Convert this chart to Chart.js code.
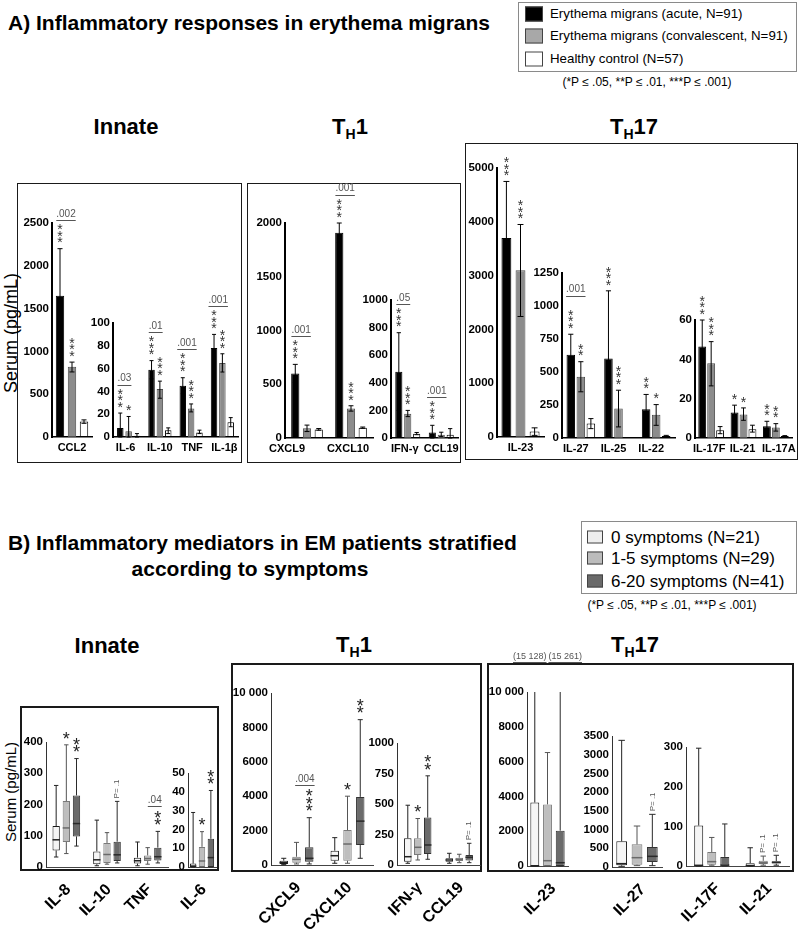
<!DOCTYPE html>
<html>
<head>
<meta charset="utf-8">
<script src="https://cdn.jsdelivr.net/npm/chart.js@4/dist/chart.umd.min.js"></script>
<style>
html,body{margin:0;padding:0;background:#fff;}
#root{position:relative;width:800px;height:932px;overflow:hidden;font-family:"Liberation Sans",Arial,Helvetica,sans-serif;color:#000;}
#root canvas{position:absolute;}
.frame{position:absolute;box-sizing:border-box;border:1.5px solid #1a1a1a;}
.heading{position:absolute;font-weight:bold;font-size:21px;white-space:nowrap;line-height:1;}
.title{position:absolute;font-weight:bold;font-size:22px;white-space:nowrap;transform:translate(-50%,-50%);line-height:1;}
.title sub{font-size:14px;vertical-align:-5px;line-height:0;}
.ytitle{position:absolute;white-space:nowrap;transform:translate(-50%,-50%) rotate(-90deg);line-height:1;}
.legend{position:absolute;box-sizing:border-box;border:1px solid #8a8a8a;background:#fff;}
.lrow{position:absolute;white-space:nowrap;line-height:1;transform:translateY(-50%);}
.sw{position:absolute;box-sizing:border-box;border:1px solid #444;transform:translateY(-50%);}
.note{position:absolute;white-space:nowrap;transform:translate(-50%,-50%);font-size:12px;line-height:1;}
</style>
</head>
<body>
<div id="root">
  <div class="heading" style="left:8px;top:12px;">A) Inflammatory responses in erythema migrans</div>
  <div class="heading" style="left:8px;top:532px;">B) Inflammatory mediators in EM patients stratified</div>
  <div class="heading" style="left:250px;top:558px;transform:translateX(-50%);">according to symptoms</div>

  <div class="title" style="left:126px;top:127px;">Innate</div>
  <div class="title" style="left:350px;top:127px;">T<sub>H</sub>1</div>
  <div class="title" style="left:634px;top:127px;">T<sub>H</sub>17</div>
  <div class="title" style="left:107px;top:646px;">Innate</div>
  <div class="title" style="left:354px;top:645px;">T<sub>H</sub>1</div>
  <div class="title" style="left:635px;top:645px;">T<sub>H</sub>17</div>

  <div class="frame" style="left:17px;top:183px;width:225px;height:280px;"></div>
  <div class="frame" style="left:247px;top:183px;width:214px;height:280px;"></div>
  <div class="frame" style="left:465px;top:143px;width:333px;height:317px;"></div>
  <div class="frame" style="left:20px;top:706px;width:199px;height:165px;border-width:2px;"></div>
  <div class="frame" style="left:231px;top:663px;width:251px;height:209px;border-width:2px;"></div>
  <div class="frame" style="left:487px;top:663px;width:307px;height:209px;border-width:2px;"></div>

  <div class="ytitle" style="left:11px;top:333px;font-size:18px;">Serum (pg/mL)</div>
  <div class="ytitle" style="left:10px;top:792px;font-size:15px;">Serum (pg/mL)</div>

  <div class="legend" id="legA" style="left:518px;top:2px;width:279px;height:70px;"></div>
  <div class="note" style="left:647px;top:82px;">(*P ≤ .05, **P ≤ .01, ***P ≤ .001)</div>
  <div class="legend" id="legB" style="left:581px;top:521px;width:216px;height:73px;"></div>
  <div class="note" style="left:672px;top:605px;">(*P ≤ .05, **P ≤ .01, ***P ≤ .001)</div>
</div>
<script>
// ---------------- DATA ----------------
const groupsA = ['Erythema migrans (acute, N=91)', 'Erythema migrans (convalescent, N=91)', 'Healthy control (N=57)'];
const groupsB = ['0 symptoms (N=21)', '1-5 symptoms (N=29)', '6-20 symptoms (N=41)'];

// Panel A: bar value and error range [low, high] (pg/mL)
const aCcl2Labels = ['CCL2'];
const aCcl2Acute = [1650];      const aCcl2AcuteErr = [[1100, 2200]];
const aCcl2Conv = [820];        const aCcl2ConvErr = [[760, 875]];
const aCcl2Hc = [180];          const aCcl2HcErr = [[160, 200]];
const aCcl2StarsAcute = ['***']; const aCcl2StarsConv = ['***'];
const aCcl2P = ['.002'];

const aInnLabels = ['IL-6', 'IL-10', 'TNF', 'IL-1β'];
const aInnAcute = [8, 59, 45, 78];   const aInnAcuteErr = [[0, 21], [51, 67], [38, 52], [66, 90]];
const aInnConv = [5, 42, 25, 65];    const aInnConvErr = [[0, 18], [34, 49], [22, 29], [57, 73]];
const aInnHc = [1, 6, 4, 13];        const aInnHcErr = [[0, 3], [3, 8], [3, 6], [9, 17]];
const aInnStarsAcute = ['***', '***', '***', '***'];
const aInnStarsConv = ['*', '***', '***', '***'];
const aInnP = ['.03', '.01', '.001', '.001'];

const aTh1aLabels = ['CXCL9', 'CXCL10'];
const aTh1aAcute = [600, 1910];  const aTh1aAcuteErr = [[515, 685], [1820, 2000]];
const aTh1aConv = [90, 275];     const aTh1aConvErr = [[60, 120], [250, 300]];
const aTh1aHc = [80, 96];        const aTh1aHcErr = [[72, 88], [90, 102]];
const aTh1aStarsAcute = ['***', '***'];
const aTh1aStarsConv = ['', '***'];
const aTh1aP = ['.001', '.001'];

const aTh1bLabels = ['IFN-γ', 'CCL19'];
const aTh1bAcute = [480, 40];    const aTh1bAcuteErr = [[200, 763], [0, 92]];
const aTh1bConv = [175, 24];     const aTh1bConvErr = [[155, 200], [10, 42]];
const aTh1bHc = [31, 24];        const aTh1bHcErr = [[24, 40], [0, 68]];
const aTh1bStarsAcute = ['***', '***'];
const aTh1bStarsConv = ['***', ''];
const aTh1bP = ['.05', '.001'];

const aTh17aLabels = ['IL-23'];
const aTh17aAcute = [3700];  const aTh17aAcuteErr = [[2650, 4750]];
const aTh17aConv = [3100];   const aTh17aConvErr = [[2240, 3950]];
const aTh17aHc = [100];      const aTh17aHcErr = [[30, 170]];
const aTh17aStarsAcute = ['***']; const aTh17aStarsConv = ['***'];

const aTh17bLabels = ['IL-27', 'IL-25', 'IL-22'];
const aTh17bAcute = [630, 603, 218]; const aTh17bAcuteErr = [[470, 786], [90, 1115], [100, 330]];
const aTh17bConv = [464, 223, 177];  const aTh17bConvErr = [[350, 578], [84, 362], [96, 253]];
const aTh17bHc = [109, null, 15];    const aTh17bHcErr = [[71, 147], null, [10, 20]];
const aTh17bStarsAcute = ['***', '***', '**'];
const aTh17bStarsConv = ['**', '***', '*'];
const aTh17bP = ['.001', '', ''];

const aTh17cLabels = ['IL-17F', 'IL-21', 'IL-17A'];
const aTh17cAcute = [46.5, 13, 6];  const aTh17cAcuteErr = [[33, 60], [9.5, 16.7], [4, 8.5]];
const aTh17cConv = [38, 12, 5.3];   const aTh17cConvErr = [[26.5, 49], [9, 15.3], [3.5, 7.3]];
const aTh17cHc = [4, 4.5, 1];       const aTh17cHcErr = [[2.2, 5.8], [3, 6.5], [0.8, 1.2]];
const aTh17cStarsAcute = ['***', '*', '**'];
const aTh17cStarsConv = ['***', '*', '**'];

// Panel B: box plots [min, Q1, median, Q3, max] (pg/mL)
const bInnaLabels = ['IL-8', 'IL-10', 'TNF'];
const bInna0 = [[32, 53, 87, 131, 261], [4, 9, 23, 50, 150], [4, 11, 20, 30, 80]];
const bInna1 = [[43, 80, 125, 211, 391], [9, 13, 40, 77, 110], [9, 19, 27, 37, 62]];
const bInna2 = [[67, 98, 139, 229, 347], [13, 19, 39, 81, 210], [13, 21, 33, 62, 114]];
const bInnaStars1 = ['*', '', ''];
const bInnaStars2 = ['**', '', '**'];
const bInnaTrend2 = ['', 'P= .1', ''];
const bInnaP = ['', '', '.04'];

const bInnbLabels = ['IL-6'];
const bInnb0 = [[0, 0, 0.5, 1.8, 29]];
const bInnb1 = [[0, 0, 3.2, 10.7, 18.8]];
const bInnb2 = [[0, 0, 5, 15, 40.7]];
const bInnbStars1 = ['*'];
const bInnbStars2 = ['**'];

const bTh1aLabels = ['CXCL9', 'CXCL10'];
const bTh1a0 = [[20, 60, 135, 250, 390], [100, 250, 540, 830, 1590]];
const bTh1a1 = [[60, 135, 330, 480, 1315], [100, 250, 1220, 2030, 4000]];
const bTh1a2 = [[60, 190, 390, 1025, 2750], [390, 1160, 2550, 3960, 8450]];
const bTh1aStars1 = ['', '*'];
const bTh1aStars2 = ['***', '**'];
const bTh1aP = ['.004', ''];

const bTh1bLabels = ['IFN-γ', 'CCL19'];
const bTh1b0 = [[14, 27, 68, 219, 490], [14, 27, 41, 55, 96]];
const bTh1b1 = [[41, 82, 145, 219, 381], [19, 33, 47, 60, 88]];
const bTh1b2 = [[47, 90, 164, 389, 731], [19, 36, 63, 82, 178]];
const bTh1bStars1 = ['*', ''];
const bTh1bStars2 = ['**', ''];
const bTh1bTrend2 = ['', 'P= .1'];

const bTh17aLabels = ['IL-23'];
const bTh17a0 = [[0, 0, 0, 3650, 15128]];
const bTh17a1 = [[0, 0, 305, 3540, 6520]];
const bTh17a2 = [[0, 0, 190, 2030, 15261]];
const bTh17aMax0 = ['(15 128)'];
const bTh17aMax2 = ['(15 261)'];

const bTh17bLabels = ['IL-27'];
const bTh17b0 = [[18, 45, 89, 686, 3384]];
const bTh17b1 = [[36, 62, 249, 605, 1095]];
const bTh17b2 = [[36, 134, 285, 534, 1407]];
const bTh17bTrend2 = ['P= .1'];

const bTh17cLabels = ['IL-17F', 'IL-21'];
const bTh17c0 = [[0, 0, 1.7, 102, 297], [0, 0, 1, 7, 46]];
const bTh17c1 = [[2, 3.4, 11, 35, 72], [2, 5, 8, 13, 25]];
const bTh17c2 = [[0, 1, 2, 23, 106], [2, 6, 9, 12, 27]];
const bTh17cTrend1 = ['', 'P= .1'];
const bTh17cTrend2 = ['', 'P= .1'];

// ---------------- STYLE ----------------
const FONT = '"Liberation Sans", Arial, sans-serif';
const colA = [{bg:'#000000', bd:'#000000'}, {bg:'#8c8c8c', bd:'#4d4d4d'}, {bg:'#ffffff', bd:'#000000'}];
const legA = ['#000000', '#a8a8a8', '#ffffff'];
const colB = [
  {bg:'#f5f5f5', bd:'#1a1a1a', wh:'#222222', md:'#222222'},
  {bg:'#bebebe', bd:'#7a7a7a', wh:'#555555', md:'#6a6a6a'},
  {bg:'#6b6b6b', bd:'#333333', wh:'#2a2a2a', md:'#2a2a2a'}
];
const legB = ['#eeeeee', '#bcbcbc', '#6a6a6a'];
const root = document.getElementById('root');

// legends
function buildLegend(id, names, cols, sw, textLeft, rows, fs){
  const box = document.getElementById(id);
  names.forEach((n, i) => {
    const s = document.createElement('div');
    s.className = 'sw';
    s.style.cssText = `left:${sw.x}px;top:${rows[i]}px;width:${sw.w}px;height:${sw.h}px;background:${cols[i]};`;
    box.appendChild(s);
    const t = document.createElement('div');
    t.className = 'lrow';
    t.style.cssText = `left:${textLeft}px;top:${rows[i]}px;font-size:${fs}px;`;
    t.textContent = n;
    box.appendChild(t);
  });
}
buildLegend('legA', groupsA, legA, {x:6, w:18, h:15}, 31, [11, 33, 56], 13.3);
buildLegend('legB', groupsB, legB, {x:5, w:16, h:13}, 29, [15, 36, 59], 17);

// ---------------- PLUGIN ----------------
function drawStars(ctx, x, bottomY, n, size, pitch, color){
  ctx.save();
  ctx.font = `${size}px ${FONT}`;
  ctx.fillStyle = color; ctx.textAlign = 'center'; ctx.textBaseline = 'alphabetic';
  const m = ctx.measureText('*');
  const cOff = (m.actualBoundingBoxDescent - m.actualBoundingBoxAscent) / 2;
  for (let k = 0; k < n; k++) {
    const cy = bottomY - pitch / 2 - k * pitch;
    ctx.fillText('*', x, cy - cOff);
  }
  ctx.restore();
  return bottomY - n * pitch;
}
function underlined(ctx, text, cx, cy, size, color){
  ctx.save();
  ctx.font = `${size}px ${FONT}`;
  ctx.fillStyle = color; ctx.strokeStyle = color; ctx.lineWidth = 1;
  ctx.textAlign = 'center'; ctx.textBaseline = 'middle';
  ctx.fillText(text, cx, cy);
  const w = ctx.measureText(text).width;
  const uy = Math.round(cy + size * 0.6) + 0.5;
  ctx.beginPath(); ctx.moveTo(cx - w / 2, uy); ctx.lineTo(cx + w / 2, uy); ctx.stroke();
  ctx.restore();
}
const annot = {
  id: 'annot',
  afterDatasetsDraw(chart, args, o){
    const ctx = chart.ctx, ys = chart.scales.y, xs = chart.scales.x, area = chart.chartArea;
    const tops = chart.data.datasets.map(() => []);
    chart.data.datasets.forEach((ds, di) => {
      const meta = chart.getDatasetMeta(di);
      meta.data.forEach((el, i) => {
        if (ds.data[i] == null) { tops[di][i] = null; return; }
        const x = el.x, bw = el.width;
        let topY = el.y;
        if (ds.err && ds.err[i]) {
          const yl = ys.getPixelForValue(ds.err[i][0]), yh = ys.getPixelForValue(ds.err[i][1]);
          const cw = Math.max(2, bw * 0.3);
          ctx.save(); ctx.strokeStyle = '#000'; ctx.lineWidth = 1;
          ctx.beginPath();
          ctx.moveTo(x, yl); ctx.lineTo(x, yh);
          ctx.moveTo(x - cw, yh); ctx.lineTo(x + cw, yh);
          ctx.moveTo(x - cw, yl); ctx.lineTo(x + cw, yl);
          ctx.stroke(); ctx.restore();
          topY = Math.min(topY, yh);
        }
        if (ds.box && ds.box[i]) {
          const b = ds.box[i];
          const clip = b[4] > ys.max;
          const yl = ys.getPixelForValue(b[0]), y1 = ys.getPixelForValue(b[1]), ym = ys.getPixelForValue(b[2]);
          const y3 = ys.getPixelForValue(b[3]), yh = ys.getPixelForValue(Math.min(b[4], ys.max));
          const cw = Math.max(2, bw * 0.3);
          ctx.save(); ctx.strokeStyle = ds.whiskerColor; ctx.lineWidth = 1;
          ctx.beginPath();
          ctx.moveTo(x, y3); ctx.lineTo(x, yh);
          ctx.moveTo(x, y1); ctx.lineTo(x, yl);
          if (!clip) { ctx.moveTo(x - cw, yh); ctx.lineTo(x + cw, yh); }
          ctx.moveTo(x - cw, yl); ctx.lineTo(x + cw, yl);
          ctx.stroke();
          ctx.strokeStyle = ds.medianColor; ctx.lineWidth = 1.5;
          ctx.beginPath(); ctx.moveTo(x - bw / 2, ym); ctx.lineTo(x + bw / 2, ym); ctx.stroke();
          ctx.restore();
          topY = yh;
        }
        let t = topY;
        if (ds.stars && ds.stars[i]) {
          t = drawStars(ctx, x, topY - o.starGap, ds.stars[i].length, o.starSize, o.starPitch, o.starColor);
        }
        if (ds.trend && ds.trend[i]) {
          ctx.save(); ctx.translate(x, topY - 3); ctx.rotate(-Math.PI / 2);
          ctx.font = `${o.trendSize}px ${FONT}`; ctx.fillStyle = '#555';
          ctx.textAlign = 'left'; ctx.textBaseline = 'middle';
          ctx.fillText(ds.trend[i], 0, 0); ctx.restore();
        }
        if (ds.maxNote && ds.maxNote[i]) {
          underlined(ctx, ds.maxNote[i], x + (ds.noteDx || 0), area.top - o.noteDy, o.noteSize, '#555');
        }
        tops[di][i] = t;
      });
    });
    if (o.pvals) {
      o.pvals.forEach((p, i) => {
        if (!p) return;
        const xa = chart.getDatasetMeta(o.pPair[0]).data[i].x;
        const xb = chart.getDatasetMeta(o.pPair[1]).data[i].x;
        const gap = (o.pGaps && o.pGaps[i]) || o.pGap;
        underlined(ctx, p, (xa + xb) / 2 + (o.pDx || 0), tops[o.pRef][i] - gap, o.pSize, '#555');
      });
    }
    ctx.save();
    ctx.fillStyle = '#000';
    ctx.font = `bold ${o.labelSize}px ${FONT}`;
    chart.data.labels.forEach((lab, i) => {
      const lx = xs.getPixelForTick(i) + (o.labelDx || 0) + (o.labelDxs ? o.labelDxs[i] : 0);
      if (o.rot) {
        ctx.save(); ctx.translate(lx, area.bottom + o.labelDy); ctx.rotate(-Math.PI / 4);
        ctx.textAlign = 'right'; ctx.textBaseline = 'middle';
        ctx.fillText(lab, 0, 0); ctx.restore();
      } else {
        ctx.textAlign = 'center'; ctx.textBaseline = 'middle';
        ctx.fillText(lab, lx, area.bottom + o.labelDy);
      }
    });
    ctx.restore();
  }
};

// ---------------- CHART FACTORY ----------------
function addChart(c){
  const AW = c.aw || 42, PT = c.pt || 45, PR = c.pr || 4, XH = c.xh || 25;
  const left = c.axisX - AW, top = c.yTop - PT;
  const w = Math.round(c.xRight - left + PR), h = Math.round(c.yZero - top + XH);
  const cv = document.createElement('canvas');
  cv.width = w; cv.height = h;
  cv.style.left = left + 'px'; cv.style.top = top + 'px';
  cv.style.width = w + 'px'; cv.style.height = h + 'px';
  root.appendChild(cv);
  return new Chart(cv, {
    type: 'bar',
    data: {labels: c.labels, datasets: c.datasets},
    options: {
      responsive: false, animation: false, devicePixelRatio: 1,
      layout: {padding: {top: PT, right: PR, left: 0, bottom: 0}},
      datasets: {bar: {categoryPercentage: c.cat, barPercentage: c.bar, borderSkipped: false}},
      plugins: {legend: {display: false}, tooltip: {enabled: false}, annot: c.annot},
      scales: {
        x: {grid: {display: false, drawTicks: false}, border: {display: true, color: c.xColor, width: c.xWidth},
            ticks: {display: false}, afterFit: s => { s.height = XH; }},
        y: {min: 0, max: c.max, grid: {display: false, drawTicks: false},
            border: {display: true, color: c.yColor, width: c.yWidth},
            ticks: {stepSize: c.step, color: '#000', padding: 3, font: {family: FONT, size: c.tickSize, weight: 'bold'},
                    callback: v => (v >= 10000 ? '10 000' : v)},
            afterFit: s => { s.width = AW; }}
      }
    },
    plugins: [annot]
  });
}

function barSets(acute, acuteErr, conv, convErr, hc, hcErr, starsAcute, starsConv){
  return [
    {label: groupsA[0], data: acute, err: acuteErr, stars: starsAcute, backgroundColor: colA[0].bg, borderColor: colA[0].bd, borderWidth: 1},
    {label: groupsA[1], data: conv, err: convErr, stars: starsConv, backgroundColor: colA[1].bg, borderColor: colA[1].bd, borderWidth: 1},
    {label: groupsA[2], data: hc, err: hcErr, backgroundColor: colA[2].bg, borderColor: colA[2].bd, borderWidth: 1}
  ];
}
function boxSets(groups, extras){
  return groups.map((g, k) => Object.assign({
    label: groupsB[k], box: g, data: g.map(b => [b[1], b[3]]),
    backgroundColor: colB[k].bg, borderColor: colB[k].bd, borderWidth: 1,
    whiskerColor: colB[k].wh, medianColor: colB[k].md
  }, (extras && extras[k]) || {}));
}

const annA = (p, extra) => Object.assign({starSize: 14, starPitch: 6.5, starGap: 5, starColor: '#333',
  pvals: p, pPair: [0, 1], pRef: 0, pGap: 10, pSize: 10, labelSize: 11, labelDy: 11}, extra || {});
const annB = (extra) => Object.assign({starSize: 18, starPitch: 7.5, starGap: 6, starColor: '#222',
  pPair: [1, 2], pRef: 2, pGap: 10, pSize: 10, pDx: 2, trendSize: 8, noteSize: 9, noteDy: 35,
  labelSize: 16, rot: true, labelDy: 20, labelDx: 2}, extra || {});

const baseA = {xColor: '#000', xWidth: 1.5, yColor: '#000', yWidth: 2, tickSize: 11.5, xh: 25};
const baseB = {xColor: '#444', xWidth: 1, yColor: '#333', yWidth: 1, tickSize: 11.5, xh: 64};

// ---------------- PANEL A ----------------
addChart(Object.assign({}, baseA, {axisX: 52, yTop: 223, yZero: 437, xRight: 92, max: 2500, step: 500, cat: 0.9, bar: 0.7,
  labels: aCcl2Labels,
  datasets: barSets(aCcl2Acute, aCcl2AcuteErr, aCcl2Conv, aCcl2ConvErr, aCcl2Hc, aCcl2HcErr, aCcl2StarsAcute, aCcl2StarsConv),
  annot: annA(aCcl2P)}));
addChart(Object.assign({}, baseA, {axisX: 113, yTop: 323, yZero: 437, xRight: 238, max: 100, step: 20, cat: 0.8, bar: 0.78,
  labels: aInnLabels,
  datasets: barSets(aInnAcute, aInnAcuteErr, aInnConv, aInnConvErr, aInnHc, aInnHcErr, aInnStarsAcute, aInnStarsConv),
  annot: annA(aInnP, {labelDxs: [-3, 0, 1, 2]})}));
addChart(Object.assign({}, baseA, {axisX: 285, yTop: 223, yZero: 438, xRight: 373, max: 2000, step: 500, cat: 0.8, bar: 0.7,
  labels: aTh1aLabels,
  datasets: barSets(aTh1aAcute, aTh1aAcuteErr, aTh1aConv, aTh1aConvErr, aTh1aHc, aTh1aHcErr, aTh1aStarsAcute, aTh1aStarsConv),
  annot: annA(aTh1aP, {labelDxs: [-20, -3]})}));
addChart(Object.assign({}, baseA, {axisX: 391, yTop: 300, yZero: 438, xRight: 458, max: 1000, step: 200, cat: 0.8, bar: 0.8,
  labels: aTh1bLabels,
  datasets: barSets(aTh1bAcute, aTh1bAcuteErr, aTh1bConv, aTh1bConvErr, aTh1bHc, aTh1bHcErr, aTh1bStarsAcute, aTh1bStarsConv),
  annot: annA(aTh1bP, {labelDxs: [-3, 0]})}));
addChart(Object.assign({}, baseA, {axisX: 497, yTop: 168, yZero: 437, xRight: 544, max: 5000, step: 1000, cat: 0.9, bar: 0.7,
  labels: aTh17aLabels,
  datasets: barSets(aTh17aAcute, aTh17aAcuteErr, aTh17aConv, aTh17aConvErr, aTh17aHc, aTh17aHcErr, aTh17aStarsAcute, aTh17aStarsConv),
  annot: annA(null)}));
addChart(Object.assign({}, baseA, {axisX: 562, yTop: 273, yZero: 438, xRight: 675, max: 1250, step: 250, cat: 0.8, bar: 0.85,
  labels: aTh17bLabels,
  datasets: barSets(aTh17bAcute, aTh17bAcuteErr, aTh17bConv, aTh17bConvErr, aTh17bHc, aTh17bHcErr, aTh17bStarsAcute, aTh17bStarsConv),
  annot: annA(aTh17bP, {pGaps: [20, 0, 0], labelDx: -5})}));
addChart(Object.assign({}, baseA, {axisX: 695, yTop: 320, yZero: 438, xRight: 792, max: 60, step: 20, cat: 0.83, bar: 0.88,
  labels: aTh17cLabels,
  datasets: barSets(aTh17cAcute, aTh17cAcuteErr, aTh17cConv, aTh17cConvErr, aTh17cHc, aTh17cHcErr, aTh17cStarsAcute, aTh17cStarsConv),
  annot: annA(null, {labelDxs: [-2, -1, 3]})}));

// ---------------- PANEL B ----------------
addChart(Object.assign({}, baseB, {axisX: 46, yTop: 742, yZero: 867, xRight: 168, max: 400, step: 100, cat: 0.75, bar: 0.72,
  labels: bInnaLabels,
  datasets: boxSets([bInna0, bInna1, bInna2], [{}, {stars: bInnaStars1}, {stars: bInnaStars2, trend: bInnaTrend2}]),
  annot: annB({pvals: bInnaP})}));
addChart(Object.assign({}, baseB, {axisX: 188, yTop: 773, yZero: 867, xRight: 216, max: 50, step: 10, cat: 0.95, bar: 0.72,
  labels: bInnbLabels,
  datasets: boxSets([bInnb0, bInnb1, bInnb2], [{}, {stars: bInnbStars1}, {stars: bInnbStars2}]),
  annot: annB()}));
addChart(Object.assign({}, baseB, {axisX: 271, yTop: 693, yZero: 865, xRight: 373, max: 10000, step: 2000, cat: 0.75, bar: 0.66,
  labels: bTh1aLabels,
  datasets: boxSets([bTh1a0, bTh1a1, bTh1a2], [{}, {stars: bTh1aStars1}, {stars: bTh1aStars2}]),
  annot: annB({pvals: bTh1aP})}));
addChart(Object.assign({}, baseB, {axisX: 397, yTop: 743, yZero: 865, xRight: 480, max: 1000, step: 250, cat: 0.72, bar: 0.75,
  labels: bTh1bLabels,
  datasets: boxSets([bTh1b0, bTh1b1, bTh1b2], [{}, {stars: bTh1bStars1}, {stars: bTh1bStars2, trend: bTh1bTrend2}]),
  annot: annB()}));
addChart(Object.assign({}, baseB, {axisX: 527, yTop: 692, yZero: 866, xRight: 568, pr: 30, max: 10000, step: 2000, cat: 0.93, bar: 0.7,
  labels: bTh17aLabels,
  datasets: boxSets([bTh17a0, bTh17a1, bTh17a2], [{maxNote: bTh17aMax0, noteDx: -5}, {}, {maxNote: bTh17aMax2, noteDx: 5}]),
  annot: annB({labelDx: 6})}));
addChart(Object.assign({}, baseB, {axisX: 612, yTop: 736, yZero: 867, xRight: 662, max: 3500, step: 500, cat: 0.92, bar: 0.7,
  labels: bTh17bLabels,
  datasets: boxSets([bTh17b0, bTh17b1, bTh17b2], [{}, {}, {trend: bTh17bTrend2}]),
  annot: annB({labelDx: 6})}));
addChart(Object.assign({}, baseB, {axisX: 686, yTop: 747, yZero: 866, xRight: 789, max: 300, step: 100, cat: 0.76, bar: 0.69,
  labels: bTh17cLabels,
  datasets: boxSets([bTh17c0, bTh17c1, bTh17c2], [{}, {trend: bTh17cTrend1}, {trend: bTh17cTrend2}]),
  annot: annB({labelDx: 6})}));
</script>
</body>
</html>
